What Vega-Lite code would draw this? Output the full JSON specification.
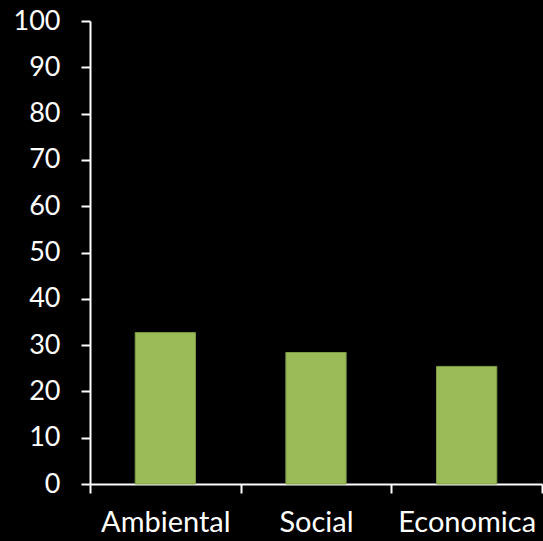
{
  "$schema": "https://vega.github.io/schema/vega-lite/v6.json",
  "width": 452,
  "height": 463,
  "autosize": {"type": "none"},
  "padding": {"left": 90, "top": 21, "right": 1, "bottom": 57},
  "background": "#000000",
  "data": {"values": [
    {"categoria": "Ambiental", "valor": 32.7},
    {"categoria": "Social", "valor": 28.4},
    {"categoria": "Economica", "valor": 25.4}
  ]},
  "mark": {"type": "bar", "color": "#9BBB59", "stroke": "#7F9A48", "strokeWidth": 1, "width": {"band": 0.4}},
  "encoding": {
    "x": {
      "field": "categoria", "type": "nominal", "sort": null,
      "scale": {"paddingInner": 0, "paddingOuter": 0},
      "axis": {
        "title": null, "labelAngle": 0, "tickBand": "extent",
        "domainColor": "#FFFFFF", "domainWidth": 2, "tickColor": "#FFFFFF", "tickWidth": 2, "tickSize": 9,
        "labelColor": "#FFFFFF", "labelFont": "Lato", "labelFontSize": 29, "labelPadding": 15, "grid": false
      }
    },
    "y": {
      "field": "valor", "type": "quantitative",
      "scale": {"domain": [0, 100], "nice": false},
      "axis": {
        "title": null, "values": [0,10,20,30,40,50,60,70,80,90,100],
        "domainColor": "#FFFFFF", "domainWidth": 2, "tickColor": "#FFFFFF", "tickWidth": 2, "tickSize": 9,
        "labelColor": "#FFFFFF", "labelFont": "Lato", "labelFontSize": 27, "labelPadding": 21, "grid": false
      }
    }
  },
  "config": {"view": {"stroke": null}}
}
